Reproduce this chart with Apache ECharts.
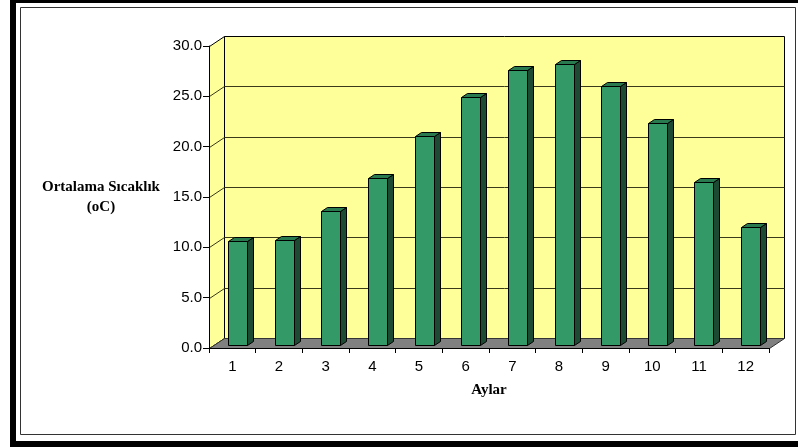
<!DOCTYPE html>
<html>
<head>
<meta charset="utf-8">
<script src="https://cdn.jsdelivr.net/npm/echarts@6/dist/echarts.min.js"></script>
<style>
  html, body { margin: 0; padding: 0; background: #fff; }
  #chart { width: 798px; height: 448px; }
</style>
</head>
<body>
<div id="chart"></div>
<script>
// Monthly mean temperature (°C)
const months = ['1', '2', '3', '4', '5', '6', '7', '8', '9', '10', '11', '12'];
const temps = [10.3, 10.4, 13.3, 16.6, 20.8, 24.6, 27.3, 27.9, 25.7, 22.1, 16.2, 11.7];
const yMin = 0;
const yMax = 30;
const yStep = 5;

// Depth of the 3D box (back wall offset) and of each column
const WALL_DX = 15, WALL_DY = -10;
const BAR_SHIFT_X = 5, BAR_SHIFT_Y = -3;
const BAR_DX = 6, BAR_DY = -4;

const px = v => Math.round(v) + 0.5;

function renderWalls(params, api) {
  const band = api.size([1, 0])[0];
  const x0 = px(api.coord([0, yMin])[0] - band / 2);
  const x1 = px(api.coord([months.length - 1, yMin])[0] + band / 2);
  const yB = px(api.coord([0, yMin])[1]);
  const yT = px(api.coord([0, yMax])[1]);
  const children = [];
  // back wall
  children.push({
    type: 'polygon',
    shape: { points: [[x0 + WALL_DX, yT + WALL_DY], [x1 + WALL_DX, yT + WALL_DY], [x1 + WALL_DX, yB + WALL_DY], [x0 + WALL_DX, yB + WALL_DY]] },
    style: { fill: '#FFFF99', stroke: '#000', lineWidth: 1 }
  });
  // side wall
  children.push({
    type: 'polygon',
    shape: { points: [[x0, yB], [x0, yT], [x0 + WALL_DX, yT + WALL_DY], [x0 + WALL_DX, yB + WALL_DY]] },
    style: { fill: '#FFFF99', stroke: '#000', lineWidth: 1 }
  });
  // gridlines across both walls
  for (let v = yMin + yStep; v < yMax; v += yStep) {
    const y = px(api.coord([0, v])[1]);
    children.push({
      type: 'polyline',
      shape: { points: [[x0, y], [x0 + WALL_DX, y + WALL_DY], [x1 + WALL_DX, y + WALL_DY]] },
      style: { fill: null, stroke: '#3a3a1a', lineWidth: 1 }
    });
  }
  // floor
  children.push({
    type: 'polygon',
    shape: { points: [[x0, yB], [x0 + WALL_DX, yB + WALL_DY], [x1 + WALL_DX, yB + WALL_DY], [x1, yB]] },
    style: { fill: '#808080', stroke: '#333', lineWidth: 1 }
  });
  return { type: 'group', children };
}

function renderBar(params, api) {
  const i = api.value(0);
  const v = api.value(1);
  const base = api.coord([i, yMin]);
  const top = api.coord([i, v]);
  const band = api.size([1, 0])[0];
  const w = Math.round(band * 0.41);
  const L = px(base[0] + BAR_SHIFT_X - w / 2);
  const R = L + w;
  const B = px(base[1] + BAR_SHIFT_Y);
  const T = px(top[1] + BAR_SHIFT_Y);
  const edge = { stroke: '#000', lineWidth: 1 };
  return {
    type: 'group',
    children: [
      { type: 'polygon', shape: { points: [[R, B], [R, T], [R + BAR_DX, T + BAR_DY], [R + BAR_DX, B + BAR_DY]] },
        style: Object.assign({ fill: '#1c4a32' }, edge) },
      { type: 'polygon', shape: { points: [[L, T], [R, T], [R + BAR_DX, T + BAR_DY], [L + BAR_DX, T + BAR_DY]] },
        style: Object.assign({ fill: '#2a7a50' }, edge) },
      { type: 'polygon', shape: { points: [[L, B], [L, T], [R, T], [R, B]] },
        style: Object.assign({ fill: '#339966' }, edge) }
    ]
  };
}

const chart = echarts.init(document.getElementById('chart'), null, { renderer: 'canvas' });
chart.setOption({
  backgroundColor: '#fff',
  animation: false,
  graphic: [
    { type: 'rect', z: -10, shape: { x: 13, y: 0, width: 800, height: 444 },
      style: { fill: null, stroke: '#000', lineWidth: 6 } },
    { type: 'rect', z: -10, shape: { x: 20.5, y: 7.5, width: 775, height: 427 },
      style: { fill: null, stroke: '#333', lineWidth: 1 } }
  ],
  grid: { left: 209, top: 46, width: 560, height: 302 },
  xAxis: {
    type: 'category',
    data: months,
    z: 10,
    name: 'Aylar',
    nameLocation: 'middle',
    nameGap: 42,
    nameTextStyle: { fontFamily: 'Liberation Serif', fontWeight: 'bold', fontSize: 15, color: '#000', verticalAlign: 'middle' },
    axisLine: { lineStyle: { color: '#000', width: 1 } },
    axisTick: { show: true, length: 5, lineStyle: { color: '#000' } },
    axisLabel: { fontFamily: 'Liberation Sans', fontSize: 15, color: '#000', margin: 11 },
    splitLine: { show: false }
  },
  yAxis: {
    type: 'value',
    min: yMin,
    max: yMax,
    interval: yStep,
    z: 10,
    name: 'Ortalama Sıcaklık\n(oC)',
    nameLocation: 'middle',
    nameRotate: 0,
    nameGap: 108,
    nameTextStyle: { fontFamily: 'Liberation Serif', fontWeight: 'bold', fontSize: 15, color: '#000',
      align: 'center', verticalAlign: 'middle', lineHeight: 20 },
    axisLine: { show: true, lineStyle: { color: '#000', width: 1 } },
    axisTick: { show: true, length: 6, lineStyle: { color: '#000' } },
    axisLabel: { fontFamily: 'Liberation Sans', fontSize: 15, color: '#000', margin: 7,
      formatter: v => v.toFixed(1) },
    splitLine: { show: false }
  },
  series: [
    { type: 'custom', z: 1, silent: true, clip: false, renderItem: renderWalls, data: [[0, 0]] },
    { type: 'custom', z: 3, clip: false, renderItem: renderBar, data: temps.map((v, i) => [i, v]) }
  ]
});
</script>
</body>
</html>
